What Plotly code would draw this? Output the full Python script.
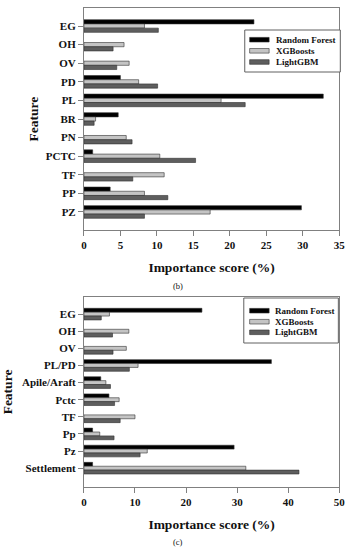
import plotly.graph_objects as go

# ---------------- data ----------------
models = ["Random Forest", "XGBoosts", "LightGBM"]
colors = ["#000000", "#c4c4c4", "#5e5e5e"]

feat_b = ["EG", "OH", "OV", "PD", "PL", "BR", "PN", "PCTC", "TF", "PP", "PZ"]
rf_b = [23.3, None, None, 5.0, 32.8, 4.7, None, 1.2, None, 3.6, 29.8]
xgb_b = [8.3, 5.5, 6.2, 7.5, 18.8, 1.6, 5.8, 10.4, 11.0, 8.3, 17.3]
lgb_b = [10.2, 4.0, 4.5, 10.1, 22.1, 1.4, 6.6, 15.3, 6.7, 11.5, 8.3]

feat_c = ["EG", "OH", "OV", "PL/PD", "Apile/Araft", "Pctc", "TF", "Pp", "Pz", "Settlement"]
rf_c = [23.1, None, None, 36.7, 3.3, 4.9, None, 1.7, 29.4, 1.7]
xgb_c = [5.0, 8.8, 8.3, 10.6, 4.3, 6.9, 10.0, 3.1, 12.4, 31.7]
lgb_c = [3.4, 5.6, 5.7, 8.9, 5.2, 6.0, 7.1, 5.9, 11.0, 42.1]

ticks_b = [0, 5, 10, 15, 20, 25, 30, 35]
ticks_c = [0, 10, 20, 30, 40, 50]

# ---------------- figure ----------------
W, H = 358, 550
FONT = "Liberation Serif, Times New Roman, serif"
AX = "#808080"

fig = go.Figure()

for vals, name, col in zip([rf_b, xgb_b, lgb_b], models, colors):
    fig.add_trace(go.Bar(y=feat_b, x=vals, name=name, orientation="h",
                         marker=dict(color=col, line=dict(color="#303030", width=0.6)),
                         xaxis="x", yaxis="y", showlegend=False))
for vals, name, col in zip([rf_c, xgb_c, lgb_c], models, colors):
    fig.add_trace(go.Bar(y=feat_c, x=vals, name=name, orientation="h",
                         marker=dict(color=col, line=dict(color="#303030", width=0.6)),
                         xaxis="x2", yaxis="y2", showlegend=False))

def px_x(x):
    return x / W

def px_y(y):
    return 1 - y / H

xdom = [px_x(83), px_x(345)]
axis_common = dict(showline=True, linecolor=AX, linewidth=1, mirror=True,
                   ticks="outside", ticklen=5, tickcolor=AX, showgrid=False,
                   zeroline=False,
                   tickfont=dict(family=FONT, size=11, color="#111", weight="bold"))
title_font = dict(family=FONT, size=13.5, weight="bold", color="#111")

fig.update_layout(
    width=W, height=H,
    margin=dict(l=0, r=0, t=0, b=0),
    paper_bgcolor="white", plot_bgcolor="white",
    barmode="group", bargap=0.32, bargroupgap=0,
    font=dict(family=FONT, color="#111"),
    xaxis=dict(domain=xdom, anchor="y", range=[0, 35], tickvals=ticks_b,
               title=dict(text="Importance score (%)", standoff=12, font=title_font),
               **axis_common),
    yaxis=dict(domain=[px_y(230), px_y(8)], anchor="x", categoryorder="array",
               categoryarray=feat_b, range=[10.97, -0.97],
               title=dict(text="Feature", standoff=4, font=title_font),
               **axis_common),
    xaxis2=dict(domain=xdom, anchor="y2", range=[0, 50], tickvals=ticks_c,
                title=dict(text="Importance score (%)", standoff=12, font=title_font),
                **axis_common),
    yaxis2=dict(domain=[px_y(487), px_y(297)], anchor="x2", categoryorder="array",
                categoryarray=feat_c, range=[10.1, -1.0],
                title=dict(text="Feature", standoff=8, font=title_font),
                **axis_common),
)

shapes = []
annotations = []

def add_legend(box_left, box_top, box_right, box_bottom, rows, sw_left, sw_right, text_x):
    shapes.append(dict(type="rect", xref="paper", yref="paper",
                       x0=px_x(box_left), x1=px_x(box_right),
                       y0=px_y(box_bottom), y1=px_y(box_top),
                       line=dict(color="#606060", width=1), fillcolor="white", layer="above"))
    for ry, name, col in zip(rows, models, colors):
        shapes.append(dict(type="rect", xref="paper", yref="paper",
                           x0=px_x(sw_left), x1=px_x(sw_right),
                           y0=px_y(ry + 2.3), y1=px_y(ry - 2.3),
                           line=dict(color="#303030", width=0.6), fillcolor=col, layer="above"))
        annotations.append(dict(xref="paper", yref="paper", x=px_x(text_x), y=px_y(ry),
                                xanchor="left", yanchor="middle", showarrow=False,
                                text=name,
                                font=dict(family=FONT, size=9, color="#111", weight="bold")))

add_legend(248, 30, 346, 72, [39.7, 50.8, 62.0], 253, 273, 278)
add_legend(247, 298, 344, 343, [310.7, 321.7, 332.3], 253, 273, 277)

annotations.append(dict(xref="paper", yref="paper", x=px_x(180), y=px_y(286),
                        xanchor="center", yanchor="middle", showarrow=False, text="(b)",
                        font=dict(family=FONT, size=8.5, color="#111")))
annotations.append(dict(xref="paper", yref="paper", x=px_x(180), y=px_y(542),
                        xanchor="center", yanchor="middle", showarrow=False, text="(c)",
                        font=dict(family=FONT, size=8.5, color="#111")))

fig.update_layout(shapes=shapes, annotations=annotations)

fig.write_html("out.html", config={"displayModeBar": False},
               post_script="document.body.style.margin='0';document.body.style.overflow='hidden';")
